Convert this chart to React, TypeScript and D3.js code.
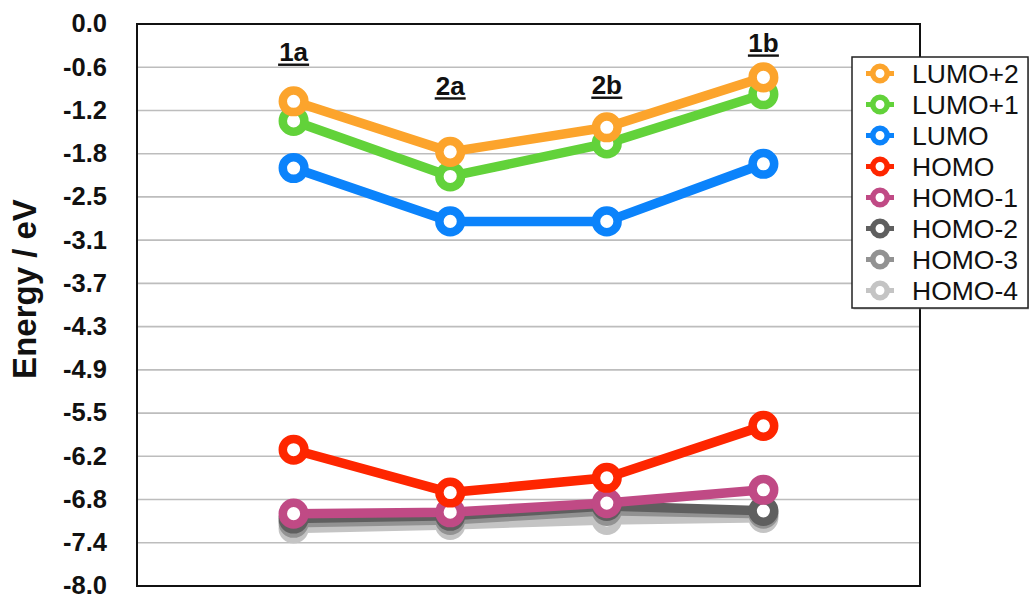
import React from "react";
import * as d3 from "d3";

// Molecules along the x axis
const compounds = ["1a", "2a", "2b", "1b"];

// Orbital energies (eV) per compound, in the order of `compounds`
const lumo2 = [-1.1, -1.82, -1.47, -0.76];
const lumo1 = [-1.38, -2.17, -1.7, -1.0];
const lumo = [-2.05, -2.81, -2.81, -1.99];
const homo = [-6.06, -6.67, -6.46, -5.72];
const homo1 = [-6.97, -6.95, -6.82, -6.63];
const homo2 = [-7.04, -7.0, -6.86, -6.93];
const homo3 = [-7.1, -7.06, -6.93, -6.97];
const homo4 = [-7.18, -7.13, -7.06, -7.03];

const seriesNames = ["LUMO+2", "LUMO+1", "LUMO", "HOMO", "HOMO-1", "HOMO-2", "HOMO-3", "HOMO-4"];
const seriesValues = [lumo2, lumo1, lumo, homo, homo1, homo2, homo3, homo4];
const seriesColors = ["#FCA42C", "#62D23A", "#0B83FB", "#FE2600", "#C04A85", "#5F5F5F", "#929292", "#C4C4C4"];

// Y-axis tick labels (13 equal steps from 0 to -8)
const tickLabels = ["0.0", "-0.6", "-1.2", "-1.8", "-2.5", "-3.1", "-3.7", "-4.3", "-4.9", "-5.5", "-6.2", "-6.8", "-7.4", "-8.0"];

// Energy at which each compound label sits
const labelEnergy = [-0.53, -1.01, -1.0, -0.4];

const W = 1029;
const H = 599;
const plot = { left: 137, top: 24, right: 920, bottom: 586 };
const FONT = "'Liberation Sans', Arial, Helvetica, sans-serif";

export default function App() {
  const x = d3
    .scalePoint<string>()
    .domain(compounds)
    .range([plot.left, plot.right])
    .padding(1);
  const y = d3.scaleLinear().domain([0, -8]).range([plot.top, plot.bottom]);
  const tickValues = tickLabels.map((_, i) => (-8 * i) / (tickLabels.length - 1));

  const line = d3
    .line<number>()
    .x((_, i) => x(compounds[i]) as number)
    .y((v) => y(v));

  const drawOrder = seriesNames.map((_, i) => i).reverse();

  const legend = { left: 852, top: 57, right: 1028, bottom: 308, rowStart: 73.5, rowStep: 31 };

  return (
    <svg
      width={W}
      height={H}
      style={{ position: "absolute", left: 0, top: 0, background: "#fff" }}
      fontFamily={FONT}
    >
      {/* horizontal grid */}
      {tickValues.slice(1, -1).map((v, i) => (
        <line
          key={"g" + i}
          x1={plot.left}
          x2={plot.right}
          y1={y(v)}
          y2={y(v)}
          stroke="#BDBDBD"
          strokeWidth={1.6}
        />
      ))}
      {/* y tick labels */}
      {tickValues.map((v, i) => (
        <text
          key={"t" + i}
          x={107}
          y={y(v)}
          dy="0.33em"
          textAnchor="end"
          fontWeight="bold"
          fontSize={25.5}
          fill="#111"
        >
          {tickLabels[i]}
        </text>
      ))}
      {/* y axis title */}
      <text
        transform={`translate(36,289) rotate(-90)`}
        textAnchor="middle"
        fontWeight="bold"
        fontSize={33}
        fill="#111"
      >
        Energy / eV
      </text>
      {/* plot frame */}
      <rect
        x={plot.left}
        y={plot.top}
        width={plot.right - plot.left}
        height={plot.bottom - plot.top}
        fill="none"
        stroke="#111"
        strokeWidth={2}
      />
      {/* series */}
      {drawOrder.map((si) => (
        <g key={seriesNames[si]}>
          <path
            d={line(seriesValues[si]) as string}
            fill="none"
            stroke={seriesColors[si]}
            strokeWidth={9.5}
            strokeLinejoin="round"
          />
          {seriesValues[si].map((v, i) => (
            <circle
              key={i}
              cx={x(compounds[i]) as number}
              cy={y(v)}
              r={10.8}
              fill="#fff"
              stroke={seriesColors[si]}
              strokeWidth={8.5}
            />
          ))}
        </g>
      ))}
      {/* compound labels */}
      {compounds.map((c, i) => {
        const cx = x(c) as number;
        const cy = y(labelEnergy[i]);
        return (
          <g key={"l" + c}>
            <text x={cx} y={cy} textAnchor="middle" fontWeight="bold" fontSize={26} fill="#111">
              {c}
            </text>
            <line x1={cx - 15.5} x2={cx + 15.5} y1={cy + 3.5} y2={cy + 3.5} stroke="#111" strokeWidth={2.4} />
          </g>
        );
      })}
      {/* legend */}
      <rect
        x={legend.left + 1.5}
        y={legend.top + 1.5}
        width={legend.right - legend.left}
        height={legend.bottom - legend.top}
        fill="#888"
        opacity={0.5}
      />
      <rect
        x={legend.left}
        y={legend.top}
        width={legend.right - legend.left}
        height={legend.bottom - legend.top}
        fill="#fff"
        stroke="#222"
        strokeWidth={1.5}
      />
      {seriesNames.map((name, i) => {
        const ly = legend.rowStart + i * legend.rowStep;
        return (
          <g key={"lg" + name}>
            <line x1={866} x2={894} y1={ly} y2={ly} stroke={seriesColors[i]} strokeWidth={5} />
            <circle cx={880} cy={ly} r={7.2} fill="#fff" stroke={seriesColors[i]} strokeWidth={5.5} />
            <text x={912} y={ly} dy="0.36em" fontSize={26.5} fill="#111">
              {name}
            </text>
          </g>
        );
      })}
    </svg>
  );
}
